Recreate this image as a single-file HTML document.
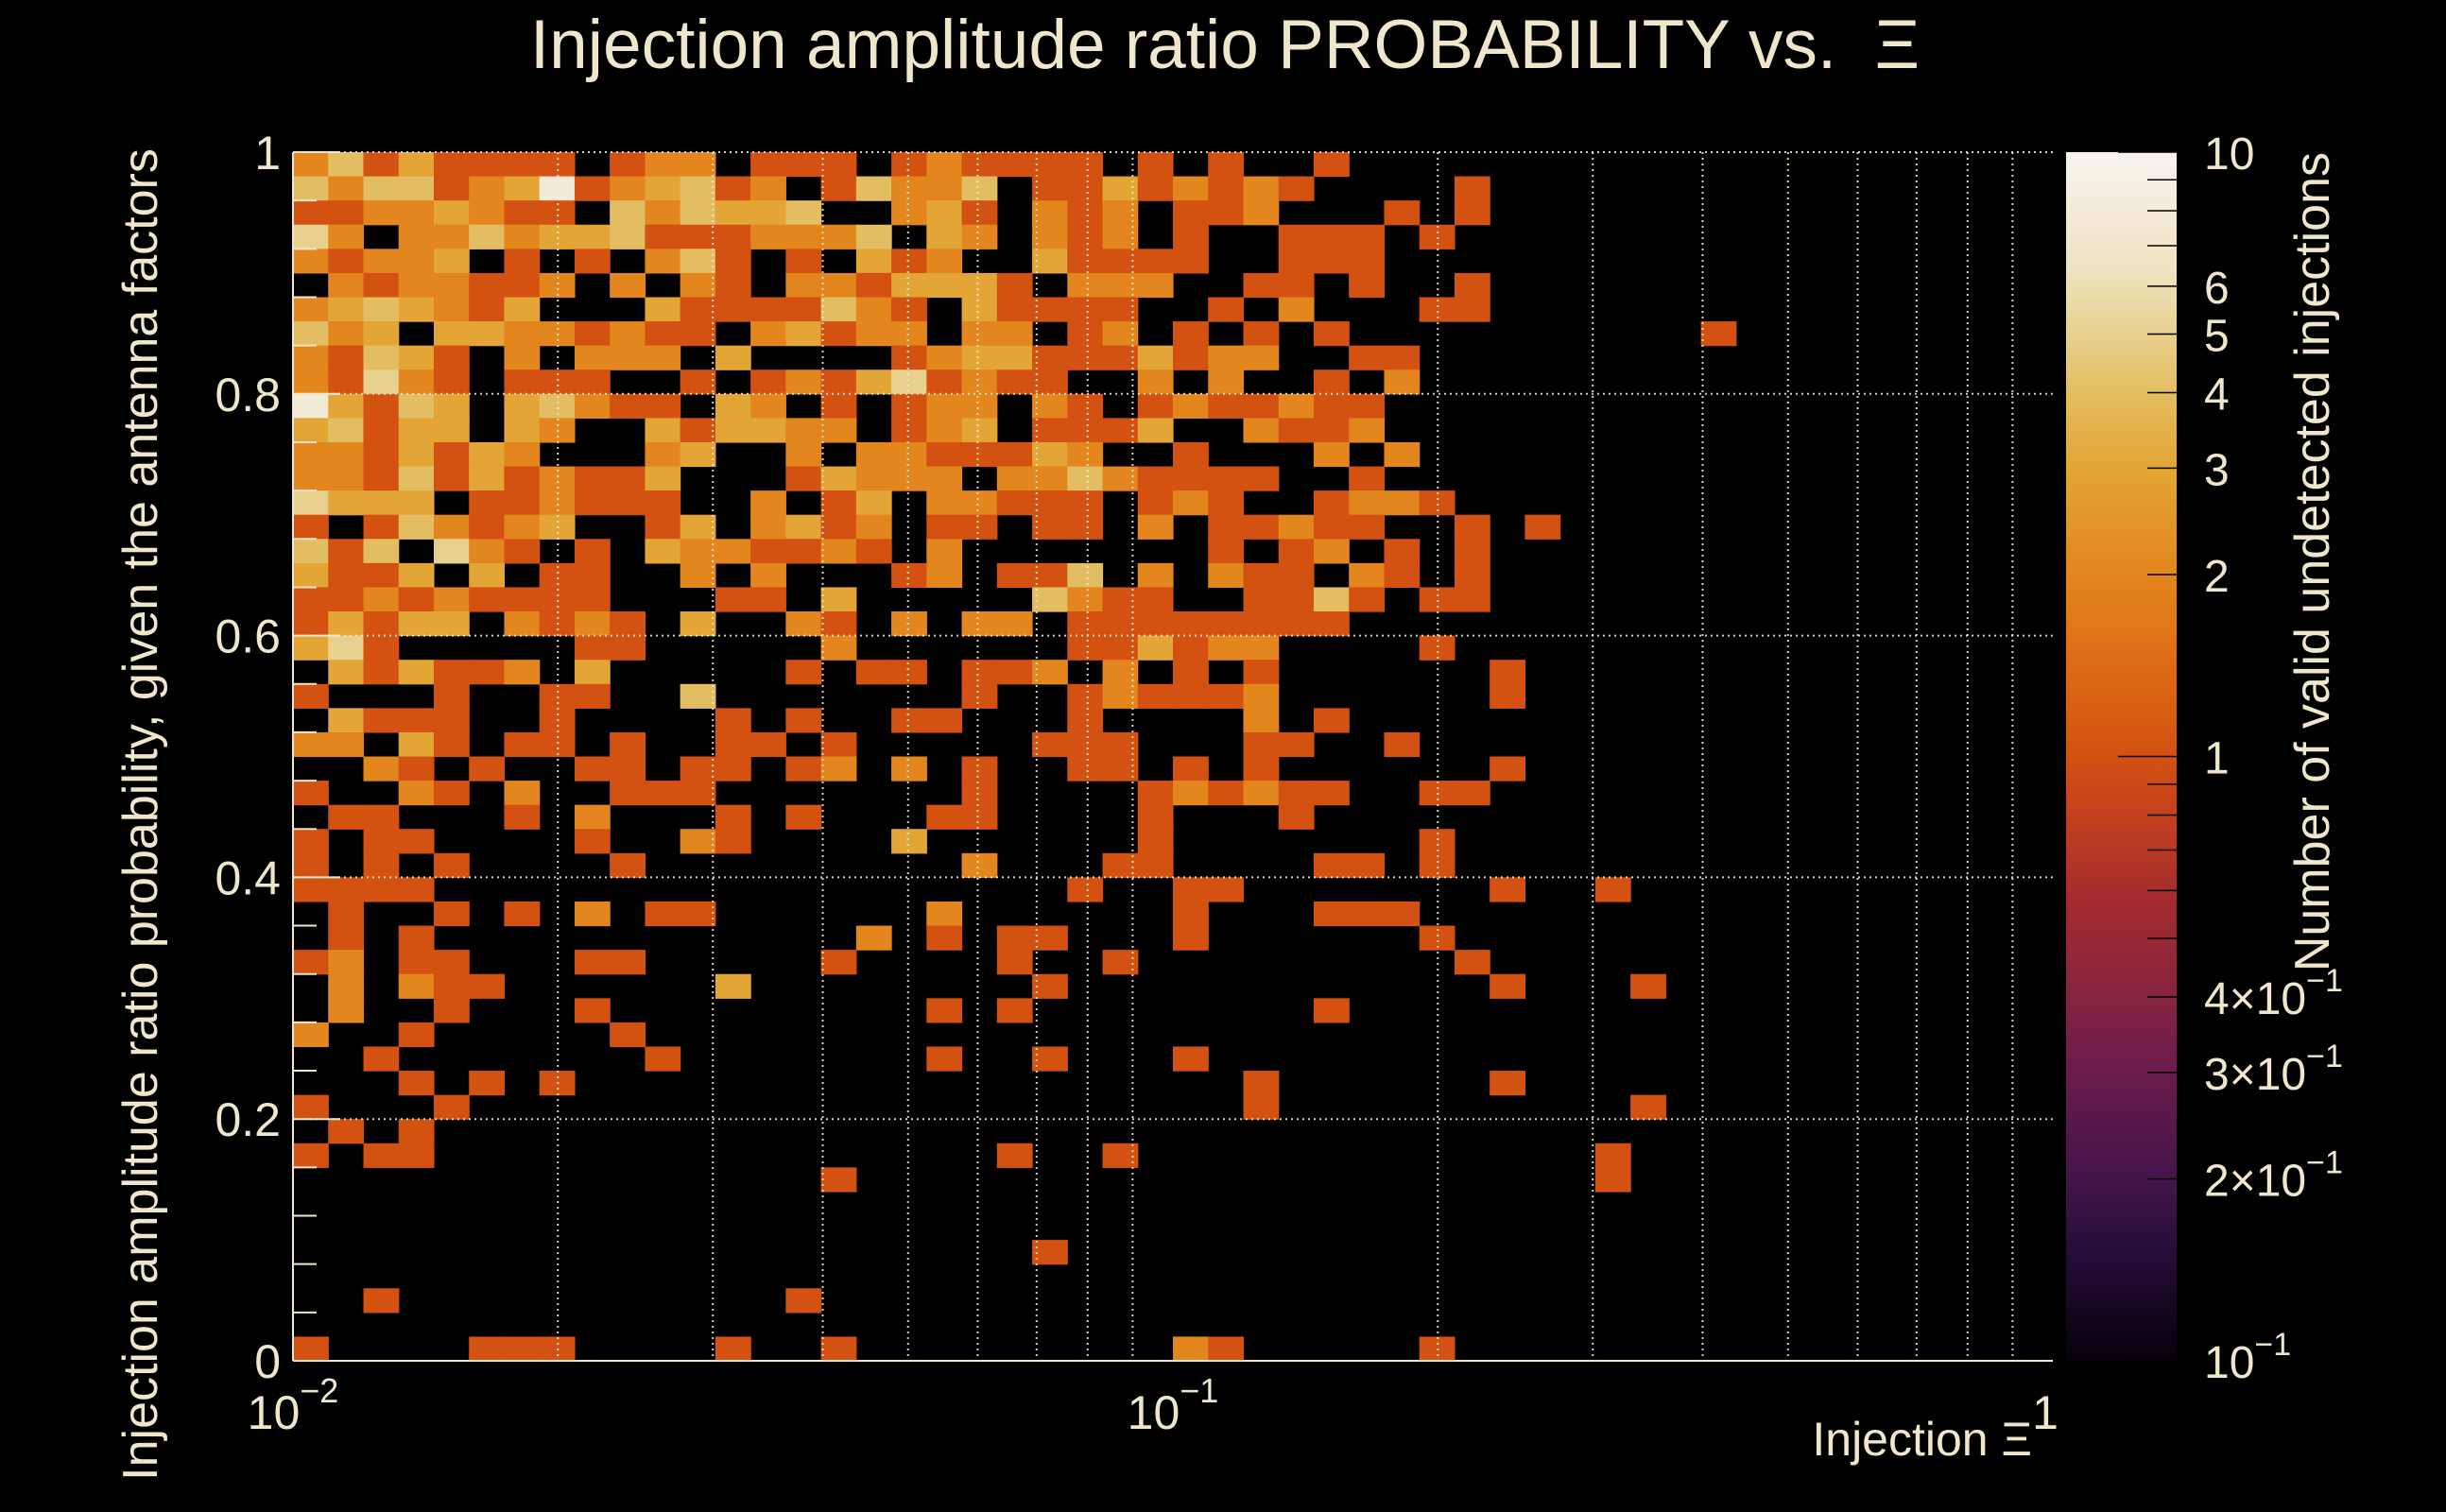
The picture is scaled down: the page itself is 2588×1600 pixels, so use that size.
<!DOCTYPE html>
<html><head><meta charset="utf-8"><style>
html,body{margin:0;padding:0;background:#000;}
svg{display:block;font-family:"Liberation Sans",sans-serif;}
</style></head><body>
<svg id="chart" width="2588" height="1600" viewBox="0 0 2588 1600" xmlns="http://www.w3.org/2000/svg">
<rect x="0" y="0" width="2588" height="1600" fill="#000"/>
<text x="1296" y="72" font-size="73" fill="#f0e6cc" text-anchor="middle">Injection amplitude ratio PROBABILITY vs.&#160;&#160;Ξ</text>
<g id="cells"></g>
<g id="grid"></g>
<g id="axes"></g>
<g id="cbar"></g>
<text transform="translate(166,862) rotate(-90)" font-size="52" fill="#f0e6cc" text-anchor="middle">Injection amplitude ratio probability, given the antenna factors</text>
<text x="2150" y="1540" font-size="50" fill="#f0e6cc" text-anchor="end">Injection Ξ</text>
<text transform="translate(2464,161) rotate(-90)" font-size="52" fill="#f0e6cc" text-anchor="end">Number of valid undetected injections</text>
</svg>
<script>
// ---- data ----
const xEdgesLog = [-2, 0];      // log10 range of x axis
const yRange = [0, 1];
const nX = 50, nY = 50;
// rows from top (y near 1) to bottom (y near 0); '.' = 0 entries
const countRows = [
"24131111.122.111.121"+"111.1.1..1",
"42441238123412.14224"+".11312121....1",
"11223211.424334..231"+".212.112...1.1",
"52.22423341112224.32"+".212.1..111.1.",
"21223.1.1.241.1.312."+".31111..111...",
".2122112.2.21.221333"+"1.222..11.1..1",
"2343213...31111421.3"+"1111..1.2...11",
"423.33221211.23122.2"+"2.12.1.1.1..........1",
"21431.2.222.3....123"+"31113122..11..",
"21521.111..1.1213512"+"11..2.2..1.2..",
"83143.34211.32.1.122"+".21.1211211...",
"34133.32..313322.123"+".1113..2112...",
"2213132...23..2.2211"+"132..1...2.2..",
"22141312113...13222."+"22421111..1...",
"5333.112111..2.13.22"+"111.121..1221.",
"1.142123..13.2312.11"+".11.2.11211..1.1",
"414.521.1.3221121.2."+"......1.12.1.1",
"3113.3.11..2.2...12."+"114.2.211.21.1",
"112121111...11.3...."+".4211..1141.11",
"13133.2121.3..21.2.2"+"2.11111111",
"351.....11.....2...."+"..113122....1",
".313112.3.....1.11.1"+"12.2.1.1......1",
"1...1..11..4.......1"+"..121112......1",
".3111..1....1.1..11."+"..1....2.1",
"22.31.11.1..11.1...."+".111...11..1",
"..21.1..11.11.12.2.1"+"..11.1.1......1",
"1..21.2..111.......1"+"....121211..11",
".11...1.2...1.1...11"+"....1...1",
"1.11....1..21....3.."+"....1.......1",
"1.1.1....1.........2"+"...11....11.1",
"1111................"+"..1..11.......1..1",
".1..1.1.2.11......2."+".....1...111",
".1.1............2.1."+"11...1......1",
"12.11...11.....1...."+"1..1.........1",
".2.211......3......."+".1............1...1",
".2..1...1.........1."+"1........1",
"2..1.....1..........",
"..1.......1.......1."+".1...1",
"...1.1.1............"+".......1......1",
"1...1..............."+".......1..........1",
".1.1................",
"1.11................"+"1..1.............1",
"...............1...."+".................1",
"",
"",
"...................."+".1",
"",
"..1...........1.....",
"",
"1....111....1..1...."+".....21.....1"
];
const yTicks = [0, 0.2, 0.4, 0.6, 0.8, 1];
const yTickLabels = ["0", "0.2", "0.4", "0.6", "0.8", "1"];
const cbTicks = [10, 6, 5, 4, 3, 2, 1, 0.4, 0.3, 0.2, 0.1];
const cbLabels = ["10", "6", "5", "4", "3", "2", "1", "4×10", "3×10", "2×10", "10"];
const cbExps = ["", "", "", "", "", "", "", "−1", "−1", "−1", "−1"];

// ---- geometry ----
const L = 310, R = 2172, T = 161, B = 1440;
const CBL = 2186, CBR = 2303;
const NS = "http://www.w3.org/2000/svg";
const xScale = lx => L + (lx - xEdgesLog[0]) / (xEdgesLog[1] - xEdgesLog[0]) * (R - L);
const xOf = v => xScale(Math.log10(v));
const yOf = v => B - (v - yRange[0]) / (yRange[1] - yRange[0]) * (B - T);
const cbT = v => (Math.log10(v) + 1) / 2;
const cbY = v => B - cbT(v) * (B - T);
const stops = [[0,"#050208"],[0.08,"#220b36"],[0.15,"#44154b"],[0.24,"#6a1c4d"],[0.3,"#85243f"],[0.38,"#a32b30"],[0.45,"#c3401e"],[0.5,"#d35111"],[0.58,"#de6c15"],[0.65,"#e2861d"],[0.74,"#e3a635"],[0.8,"#e3bd60"],[0.85,"#e8d08e"],[0.9,"#eee2bf"],[1,"#f6f4f0"]];
function hex(h){return [1,3,5].map(i=>parseInt(h.substr(i,2),16));}
function colorAt(t){
  t=Math.max(0,Math.min(1,t));
  for(let i=1;i<stops.length;i++){
    if(t<=stops[i][0]){
      const a=stops[i-1],b=stops[i],f=(t-a[0])/(b[0]-a[0]);
      const ca=hex(a[1]),cb=hex(b[1]);
      return "rgb("+ca.map((c,k)=>Math.round(c+(cb[k]-c)*f)).join(",")+")";
    }
  }
  return stops[stops.length-1][1];
}
function mk(tag, attrs, parent){
  const e=document.createElementNS(NS,tag);
  for(const k in attrs) e.setAttribute(k, attrs[k]);
  parent.appendChild(e); return e;
}
const cells=document.getElementById("cells");
const dlx=(xEdgesLog[1]-xEdgesLog[0])/nX, dy=(yRange[1]-yRange[0])/nY;
countRows.forEach((row, r)=>{
  for(let c=0;c<row.length && c<nX;c++){
    const ch=row[c]; if(ch==='.') continue;
    const v=parseInt(ch,10); if(!v) continue;
    const x0=xScale(xEdgesLog[0]+c*dlx), x1=xScale(xEdgesLog[0]+(c+1)*dlx);
    const yTop=yOf(yRange[1]-r*dy), yBot=yOf(yRange[1]-(r+1)*dy);
    const e=mk("rect",{x:x0.toFixed(2),y:yTop.toFixed(2),width:(x1-x0+0.6).toFixed(2),height:(yBot-yTop+0.6).toFixed(2),fill:colorAt(cbT(v))},cells);
    
    
  }
});
// grid
const grid=document.getElementById("grid");
const gs={stroke:"#f0e6cc","stroke-width":2,"stroke-dasharray":"2 4",opacity:0.9};
[0.01,0.1].forEach(dec=>{for(let m=2;m<=9;m++){const x=xOf(dec*m);
  const g=mk("line",Object.assign({x1:x,x2:x,y1:T,y2:B},gs),grid);
  
  }});
yTicks.slice(1).forEach(v=>{const y=yOf(v);
  const g=mk("line",Object.assign({x1:L,x2:R,y1:y,y2:y},gs),grid);
  
  });
// axes
const axes=document.getElementById("axes");
const ax1=mk("line",{x1:L,x2:L,y1:T,y2:B,stroke:"#f0e6cc","stroke-width":2},axes);


const ax2=mk("line",{x1:L,x2:R,y1:B,y2:B,stroke:"#f0e6cc","stroke-width":2},axes);


for(let i=0;i<=25;i++){const v=i*0.04; const y=yOf(v);
  const t=mk("line",{x1:L,x2:L+(i%5===0?50:25),y1:y,y2:y,stroke:"#f0e6cc","stroke-width":2},axes);
  
  }
yTicks.forEach((v,i)=>{
  const t=mk("text",{x:297,y:yOf(v)+18,"font-size":50,fill:"#f0e6cc","text-anchor":"end"},axes);
  t.textContent=yTickLabels[i];
  
  
});
[[0.01,"10","−2"],[0.1,"10","−1"],[1,"1",""]].forEach(([v,b,e])=>{
  const t=mk("text",{x:xOf(v)+(e?0:-8),y:1512,"font-size":50,fill:"#f0e6cc","text-anchor":"middle"},axes);
  t.textContent=b;
  if(e){const s=mk("tspan",{dy:-28,"font-size":36},t); s.textContent=e;}
  
  
});
// colorbar
const cbar=document.getElementById("cbar");
const defs=mk("defs",{},cbar);
const lg=mk("linearGradient",{id:"cbg",x1:0,y1:1,x2:0,y2:0},defs);
stops.forEach(s=>mk("stop",{offset:s[0],"stop-color":s[1]},lg));
const cr=mk("rect",{x:CBL,y:T,width:CBR-CBL,height:B-T,fill:"url(#cbg)"},cbar);


[0.1,0.2,0.3,0.4,0.5,0.6,0.7,0.8,0.9,1,2,3,4,5,6,7,8,9,10].forEach(v=>{
  const y=cbY(v); const major=(v===1||v===10||v===0.1);
  const t=mk("line",{x1:major?CBR-62:CBR-31,x2:CBR,y1:y,y2:y,stroke:"#000","stroke-width":1.5},cbar);
  
  
});
cbTicks.forEach((v,i)=>{
  const t=mk("text",{x:2332,y:cbY(v)+18,"font-size":48,fill:"#f0e6cc"},cbar);
  t.textContent=cbLabels[i];
  if(cbExps[i]){const s=mk("tspan",{dy:-24,"font-size":34},t); s.textContent=cbExps[i];}
  
  
});
</script>
</body></html>
